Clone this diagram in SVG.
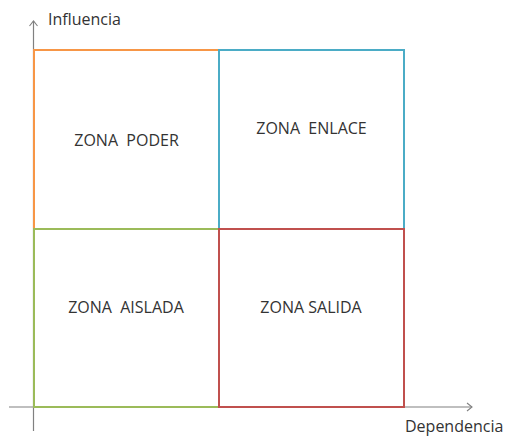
<svg xmlns="http://www.w3.org/2000/svg" width="511" height="437" viewBox="0 0 511 437">
<style>
.q{fill:none;stroke-width:2}
.ax{stroke:#808080;stroke-width:1.2;fill:none}
text{font-family:"Open Sans","Liberation Sans",Arial,sans-serif;fill:#333333;white-space:pre}
.z{font-size:16px;text-anchor:middle}
.a{font-size:16px}
</style>
<defs>
<marker id="arr" markerWidth="10" markerHeight="10" refX="8" refY="5" orient="auto" markerUnits="userSpaceOnUse">
<path d="M3,1 L8,5 L3,9" fill="none" stroke="#808080" stroke-width="1.1"/>
</marker>
</defs>
<g id="connectors">
<line class="ax" x1="33.5" y1="431" x2="33.5" y2="21" marker-end="url(#arr)"/>
<line class="ax" x1="9" y1="407" x2="472" y2="407" marker-end="url(#arr)"/>
</g>
<g id="zona-poder">
<rect class="q" x="34" y="50" width="185" height="179" stroke="#F79646"/>
<text class="z" x="126.5" y="146" xml:space="preserve">ZONA  PODER</text>
</g>
<g id="zona-enlace">
<rect class="q" x="219" y="50" width="185" height="179" stroke="#4BACC6"/>
<text class="z" x="311.5" y="134" xml:space="preserve">ZONA  ENLACE</text>
</g>
<g id="zona-aislada">
<rect class="q" x="34" y="229" width="185" height="178" stroke="#9BBB59"/>
<text class="z" x="126" y="313" xml:space="preserve">ZONA  AISLADA</text>
</g>
<g id="zona-salida">
<rect class="q" x="219" y="229" width="185" height="178" stroke="#C0504D"/>
<text class="z" x="311" y="313">ZONA SALIDA</text>
</g>
<g id="labels">
<text class="a" x="48" y="25">Influencia</text>
<text class="a" x="405" y="432">Dependencia</text>
</g>
</svg>
